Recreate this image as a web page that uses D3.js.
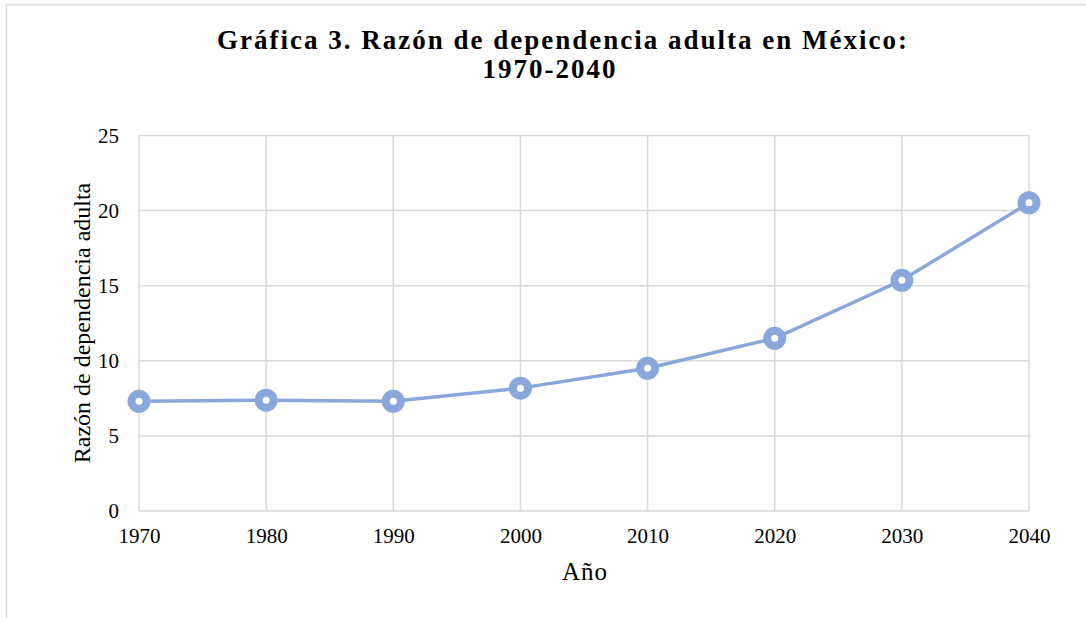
<!DOCTYPE html>
<html>
<head>
<meta charset="utf-8">
<script src="https://cdn.jsdelivr.net/npm/d3@7"></script>
<style>
  body { margin: 0; background: #fff; }
  text { font-family: "Liberation Serif", "Times New Roman", serif; fill: #000; }
</style>
</head>
<body>
<div id="chart"></div>
<script>
// data
const years = [1970, 1980, 1990, 2000, 2010, 2020, 2030, 2040]
const ratio = [7.3, 7.38, 7.3, 8.18, 9.5, 11.5, 15.36, 20.52]
const yTicks = [0, 5, 10, 15, 20, 25]
const titleLines = ["Gráfica 3. Razón de dependencia adulta en México:", "1970-2040"]

const W = 1086, H = 618
const margins = {top: 135.5, right: 57, bottom: 107, left: 139}
const colors = {
    grid: '#d9d9d9',
    line: '#8aa7dc',
    frame: '#d9d9d9'
}

const width = W - margins.left - margins.right
const height = H - margins.top - margins.bottom

const svg = d3.select('#chart').append('svg')
    .attr('width', W)
    .attr('height', H)

// outer frame (only top/left visible in the picture)
svg.append('rect')
    .attr('x', 6.5).attr('y', 4.5)
    .attr('width', W + 20).attr('height', H + 20)
    .attr('fill', 'none')
    .attr('stroke', colors.frame)
    .attr('stroke-width', 1.5)

const g = svg.append('g').attr('transform', `translate(${margins.left},${margins.top})`)

const x = d3.scalePoint().domain(years).range([0, width])
const y = d3.scaleLinear().domain([0, 25]).range([height, 0])

// horizontal gridlines
g.append('g')
    .selectAll('line')
    .data(yTicks)
    .join('line')
    .attr('x1', 0).attr('x2', width)
    .attr('y1', d => y(d)).attr('y2', d => y(d))
    .attr('stroke', colors.grid)
    .attr('stroke-width', 1.5)

// vertical gridlines
g.append('g')
    .selectAll('line')
    .data(years)
    .join('line')
    .attr('x1', d => x(d)).attr('x2', d => x(d))
    .attr('y1', 0).attr('y2', height)
    .attr('stroke', colors.grid)
    .attr('stroke-width', 1.5)

// y tick labels
const yAxis = g.append('g')
    .call(d3.axisLeft(y).tickValues(yTicks).tickSize(0).tickPadding(20))
yAxis.select('.domain').remove()
yAxis.selectAll('text')
    .style('font-family', '"Liberation Serif", serif')
    .style('font-size', '21px')
    .attr('fill', '#000')

// x tick labels
const xAxis = g.append('g')
    .attr('transform', `translate(0,${height})`)
    .call(d3.axisBottom(x).tickSize(0).tickPadding(17))
xAxis.select('.domain').remove()
xAxis.selectAll('text')
    .style('font-family', '"Liberation Serif", serif')
    .style('font-size', '21px')
    .attr('fill', '#000')

// line
const pts = years.map((yr, i) => [yr, ratio[i]])
g.append('path')
    .datum(pts)
    .attr('d', d3.line().x(d => x(d[0])).y(d => y(d[1])))
    .attr('fill', 'none')
    .attr('stroke', colors.line)
    .attr('stroke-width', 3.5)

g.append('g')
    .selectAll('circle')
    .data(pts)
    .join('circle')
    .attr('cx', d => x(d[0]))
    .attr('cy', d => y(d[1]))
    .attr('r', 7.5)
    .attr('fill', '#fff')
    .attr('stroke', colors.line)
    .attr('stroke-width', 8)

// title
svg.append('g').selectAll('text')
    .data(titleLines)
    .join('text')
    .attr('x', (d, i) => i ? 550 : 563)
    .attr('y', (d, i) => 49 + i * 29)
    .attr('text-anchor', 'middle')
    .style('font-size', '27px')
    .style('font-weight', 'bold')
    .style('letter-spacing', '2px')
    .text(d => d)

// axis titles
svg.append('text')
    .attr('x', 585).attr('y', 580)
    .attr('text-anchor', 'middle')
    .style('font-size', '25px')
    .style('letter-spacing', '1px')
    .text('Año')

svg.append('text')
    .attr('transform', 'translate(90,323) rotate(-90)')
    .attr('text-anchor', 'middle')
    .style('font-size', '24px')
    .text('Razón de dependencia adulta')
</script>
</body>
</html>
